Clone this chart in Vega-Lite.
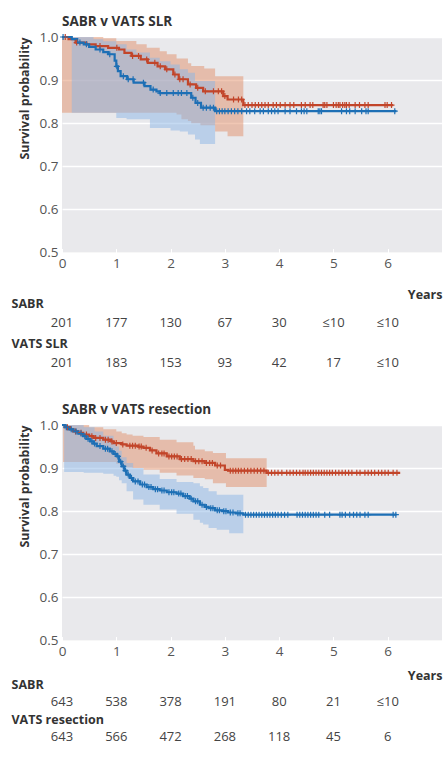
{
"$schema": "https://vega.github.io/schema/vega-lite/v6.json",
"background": "white",
"padding": {"left": 11, "top": 14, "right": 2, "bottom": 5},
"datasets": {
"km1": [
{"grp":"SABR","t":0,"s":1},{"grp":"SABR","t":0.12,"s":0.995},{"grp":"SABR","t":0.25,"s":0.987},{"grp":"SABR","t":0.45,"s":0.983},{"grp":"SABR","t":0.62,"s":0.979},{"grp":"SABR","t":0.85,"s":0.975},{"grp":"SABR","t":1.05,"s":0.971},{"grp":"SABR","t":1.15,"s":0.963},{"grp":"SABR","t":1.28,"s":0.956},{"grp":"SABR","t":1.45,"s":0.948},{"grp":"SABR","t":1.58,"s":0.94},{"grp":"SABR","t":1.76,"s":0.932},{"grp":"SABR","t":1.9,"s":0.925},{"grp":"SABR","t":2.05,"s":0.913},{"grp":"SABR","t":2.15,"s":0.902},{"grp":"SABR","t":2.32,"s":0.89},{"grp":"SABR","t":2.47,"s":0.882},{"grp":"SABR","t":2.6,"s":0.874},{"grp":"SABR","t":2.97,"s":0.863},{"grp":"SABR","t":3.05,"s":0.855},{"grp":"SABR","t":3.34,"s":0.842},{"grp":"SABR","t":6.1,"s":0.842},
{"grp":"VATS","t":0,"s":1},{"grp":"VATS","t":0.18,"s":0.995},{"grp":"VATS","t":0.28,"s":0.987},{"grp":"VATS","t":0.4,"s":0.983},{"grp":"VATS","t":0.5,"s":0.977},{"grp":"VATS","t":0.62,"s":0.971},{"grp":"VATS","t":0.76,"s":0.965},{"grp":"VATS","t":0.85,"s":0.96},{"grp":"VATS","t":0.97,"s":0.945},{"grp":"VATS","t":1.0,"s":0.932},{"grp":"VATS","t":1.03,"s":0.921},{"grp":"VATS","t":1.08,"s":0.909},{"grp":"VATS","t":1.2,"s":0.902},{"grp":"VATS","t":1.32,"s":0.894},{"grp":"VATS","t":1.52,"s":0.886},{"grp":"VATS","t":1.63,"s":0.878},{"grp":"VATS","t":1.74,"s":0.874},{"grp":"VATS","t":1.8,"s":0.87},{"grp":"VATS","t":2.38,"s":0.859},{"grp":"VATS","t":2.46,"s":0.847},{"grp":"VATS","t":2.56,"s":0.836},{"grp":"VATS","t":2.82,"s":0.828},{"grp":"VATS","t":6.16,"s":0.828}
],
"band1": [
{"grp":"SABR","t":0,"lo":0.824,"hi":1},{"grp":"SABR","t":0.76,"lo":0.824,"hi":0.997},{"grp":"SABR","t":1.0,"lo":0.824,"hi":0.991},{"grp":"SABR","t":1.37,"lo":0.824,"hi":0.983},{"grp":"SABR","t":1.56,"lo":0.824,"hi":0.975},{"grp":"SABR","t":1.8,"lo":0.824,"hi":0.967},{"grp":"SABR","t":1.93,"lo":0.824,"hi":0.96},{"grp":"SABR","t":2.11,"lo":0.82,"hi":0.95},{"grp":"SABR","t":2.2,"lo":0.809,"hi":0.95},{"grp":"SABR","t":2.32,"lo":0.805,"hi":0.939},{"grp":"SABR","t":2.38,"lo":0.8,"hi":0.933},{"grp":"SABR","t":2.55,"lo":0.795,"hi":0.933},{"grp":"SABR","t":2.62,"lo":0.795,"hi":0.927},{"grp":"SABR","t":2.82,"lo":0.781,"hi":0.909},{"grp":"SABR","t":3.05,"lo":0.77,"hi":0.909},{"grp":"SABR","t":3.34,"lo":0.77,"hi":0.909},
{"grp":"VATS","t":0.18,"lo":0.824,"hi":1},{"grp":"VATS","t":0.58,"lo":0.824,"hi":0.995},{"grp":"VATS","t":0.76,"lo":0.824,"hi":0.99},{"grp":"VATS","t":1.0,"lo":0.812,"hi":0.983},{"grp":"VATS","t":1.19,"lo":0.809,"hi":0.971},{"grp":"VATS","t":1.37,"lo":0.809,"hi":0.964},{"grp":"VATS","t":1.62,"lo":0.789,"hi":0.952},{"grp":"VATS","t":1.8,"lo":0.789,"hi":0.944},{"grp":"VATS","t":2.0,"lo":0.783,"hi":0.936},{"grp":"VATS","t":2.17,"lo":0.781,"hi":0.925},{"grp":"VATS","t":2.32,"lo":0.774,"hi":0.917},{"grp":"VATS","t":2.45,"lo":0.762,"hi":0.898},{"grp":"VATS","t":2.54,"lo":0.752,"hi":0.898},{"grp":"VATS","t":2.82,"lo":0.752,"hi":0.898}
],
"cens1": [
{"grp":"SABR","t":0.06,"s":1},{"grp":"SABR","t":0.27,"s":0.987},{"grp":"SABR","t":0.7,"s":0.979},{"grp":"SABR","t":1.01,"s":0.975},{"grp":"SABR","t":1.3,"s":0.956},{"grp":"SABR","t":1.41,"s":0.956},{"grp":"SABR","t":1.56,"s":0.948},{"grp":"SABR","t":1.71,"s":0.94},{"grp":"SABR","t":1.81,"s":0.932},{"grp":"SABR","t":1.93,"s":0.925},{"grp":"SABR","t":2.08,"s":0.913},{"grp":"SABR","t":2.17,"s":0.902},{"grp":"SABR","t":2.23,"s":0.902},{"grp":"SABR","t":2.36,"s":0.89},{"grp":"SABR","t":2.5,"s":0.882},{"grp":"SABR","t":2.64,"s":0.874},{"grp":"SABR","t":2.79,"s":0.874},{"grp":"SABR","t":2.88,"s":0.874},{"grp":"SABR","t":2.94,"s":0.874},{"grp":"SABR","t":3.0,"s":0.863},{"grp":"SABR","t":3.16,"s":0.855},{"grp":"SABR","t":3.25,"s":0.855},{"grp":"SABR","t":3.31,"s":0.855},
{"grp":"SABR","t":3.37,"s":0.842},{"grp":"SABR","t":3.43,"s":0.842},{"grp":"SABR","t":3.5,"s":0.842},{"grp":"SABR","t":3.56,"s":0.842},{"grp":"SABR","t":3.62,"s":0.842},{"grp":"SABR","t":3.68,"s":0.842},{"grp":"SABR","t":3.74,"s":0.842},{"grp":"SABR","t":3.8,"s":0.842},{"grp":"SABR","t":3.89,"s":0.842},{"grp":"SABR","t":3.95,"s":0.842},{"grp":"SABR","t":4.02,"s":0.842},{"grp":"SABR","t":4.11,"s":0.842},{"grp":"SABR","t":4.2,"s":0.842},{"grp":"SABR","t":4.27,"s":0.842},{"grp":"SABR","t":4.41,"s":0.842},{"grp":"SABR","t":4.48,"s":0.842},{"grp":"SABR","t":4.57,"s":0.842},{"grp":"SABR","t":4.62,"s":0.842},{"grp":"SABR","t":4.81,"s":0.842},{"grp":"SABR","t":4.84,"s":0.842},{"grp":"SABR","t":4.88,"s":0.842},{"grp":"SABR","t":5.0,"s":0.842},{"grp":"SABR","t":5.05,"s":0.842},{"grp":"SABR","t":5.09,"s":0.842},{"grp":"SABR","t":5.12,"s":0.842},{"grp":"SABR","t":5.17,"s":0.842},{"grp":"SABR","t":5.21,"s":0.842},{"grp":"SABR","t":5.24,"s":0.842},{"grp":"SABR","t":5.29,"s":0.842},{"grp":"SABR","t":5.4,"s":0.842},{"grp":"SABR","t":5.48,"s":0.842},{"grp":"SABR","t":5.58,"s":0.842},{"grp":"SABR","t":5.64,"s":0.842},{"grp":"SABR","t":5.95,"s":0.842},{"grp":"SABR","t":5.99,"s":0.842},{"grp":"SABR","t":6.07,"s":0.842},
{"grp":"VATS","t":0.02,"s":1},{"grp":"VATS","t":0.33,"s":0.987},{"grp":"VATS","t":0.45,"s":0.983},{"grp":"VATS","t":0.7,"s":0.971},{"grp":"VATS","t":0.88,"s":0.96},{"grp":"VATS","t":1.01,"s":0.932},{"grp":"VATS","t":1.13,"s":0.909},{"grp":"VATS","t":1.22,"s":0.902},{"grp":"VATS","t":1.31,"s":0.902},{"grp":"VATS","t":1.5,"s":0.894},{"grp":"VATS","t":1.68,"s":0.878},{"grp":"VATS","t":1.81,"s":0.87},{"grp":"VATS","t":1.93,"s":0.87},{"grp":"VATS","t":2.05,"s":0.87},{"grp":"VATS","t":2.14,"s":0.87},{"grp":"VATS","t":2.2,"s":0.87},{"grp":"VATS","t":2.3,"s":0.87},{"grp":"VATS","t":2.41,"s":0.859},{"grp":"VATS","t":2.5,"s":0.847},{"grp":"VATS","t":2.6,"s":0.836},{"grp":"VATS","t":2.66,"s":0.836},{"grp":"VATS","t":2.73,"s":0.836},{"grp":"VATS","t":2.79,"s":0.836},
{"grp":"VATS","t":2.85,"s":0.828},{"grp":"VATS","t":2.9,"s":0.828},{"grp":"VATS","t":2.95,"s":0.828},{"grp":"VATS","t":3.0,"s":0.828},{"grp":"VATS","t":3.06,"s":0.828},{"grp":"VATS","t":3.12,"s":0.828},{"grp":"VATS","t":3.18,"s":0.828},{"grp":"VATS","t":3.24,"s":0.828},{"grp":"VATS","t":3.31,"s":0.828},{"grp":"VATS","t":3.4,"s":0.828},{"grp":"VATS","t":3.46,"s":0.828},{"grp":"VATS","t":3.55,"s":0.828},{"grp":"VATS","t":3.65,"s":0.828},{"grp":"VATS","t":3.71,"s":0.828},{"grp":"VATS","t":3.8,"s":0.828},{"grp":"VATS","t":3.86,"s":0.828},{"grp":"VATS","t":3.92,"s":0.828},{"grp":"VATS","t":3.98,"s":0.828},{"grp":"VATS","t":4.11,"s":0.828},{"grp":"VATS","t":4.2,"s":0.828},{"grp":"VATS","t":4.32,"s":0.828},{"grp":"VATS","t":4.41,"s":0.828},{"grp":"VATS","t":4.46,"s":0.828},{"grp":"VATS","t":4.51,"s":0.828},{"grp":"VATS","t":4.72,"s":0.828},{"grp":"VATS","t":4.75,"s":0.828},{"grp":"VATS","t":4.78,"s":0.828},{"grp":"VATS","t":5.15,"s":0.828},{"grp":"VATS","t":5.24,"s":0.828},{"grp":"VATS","t":5.3,"s":0.828},{"grp":"VATS","t":5.4,"s":0.828},{"grp":"VATS","t":5.52,"s":0.828},{"grp":"VATS","t":5.6,"s":0.828},{"grp":"VATS","t":5.64,"s":0.828},{"grp":"VATS","t":6.13,"s":0.828}
],
"km2": [
{"grp":"SABR","t":0,"s":1},{"grp":"SABR","t":0.05,"s":0.995},{"grp":"SABR","t":0.15,"s":0.99},{"grp":"SABR","t":0.21,"s":0.985},{"grp":"SABR","t":0.3,"s":0.982},{"grp":"SABR","t":0.39,"s":0.978},{"grp":"SABR","t":0.5,"s":0.974},{"grp":"SABR","t":0.58,"s":0.97},{"grp":"SABR","t":0.76,"s":0.966},{"grp":"SABR","t":0.9,"s":0.962},{"grp":"SABR","t":0.95,"s":0.958},{"grp":"SABR","t":1.1,"s":0.955},{"grp":"SABR","t":1.19,"s":0.952},{"grp":"SABR","t":1.4,"s":0.95},{"grp":"SABR","t":1.5,"s":0.947},{"grp":"SABR","t":1.62,"s":0.941},{"grp":"SABR","t":1.74,"s":0.934},{"grp":"SABR","t":1.93,"s":0.927},{"grp":"SABR","t":2.17,"s":0.921},{"grp":"SABR","t":2.42,"s":0.916},{"grp":"SABR","t":2.63,"s":0.912},{"grp":"SABR","t":2.82,"s":0.906},{"grp":"SABR","t":3.0,"s":0.896},{"grp":"SABR","t":3.06,"s":0.894},{"grp":"SABR","t":3.77,"s":0.889},{"grp":"SABR","t":6.23,"s":0.889},
{"grp":"VATS","t":0,"s":1},{"grp":"VATS","t":0.05,"s":0.995},{"grp":"VATS","t":0.12,"s":0.99},{"grp":"VATS","t":0.21,"s":0.985},{"grp":"VATS","t":0.3,"s":0.98},{"grp":"VATS","t":0.39,"s":0.974},{"grp":"VATS","t":0.45,"s":0.968},{"grp":"VATS","t":0.52,"s":0.962},{"grp":"VATS","t":0.58,"s":0.957},{"grp":"VATS","t":0.64,"s":0.951},{"grp":"VATS","t":0.76,"s":0.945},{"grp":"VATS","t":0.88,"s":0.939},{"grp":"VATS","t":0.95,"s":0.933},{"grp":"VATS","t":1.01,"s":0.927},{"grp":"VATS","t":1.05,"s":0.915},{"grp":"VATS","t":1.1,"s":0.904},{"grp":"VATS","t":1.15,"s":0.894},{"grp":"VATS","t":1.19,"s":0.885},{"grp":"VATS","t":1.25,"s":0.877},{"grp":"VATS","t":1.31,"s":0.869},{"grp":"VATS","t":1.44,"s":0.862},{"grp":"VATS","t":1.56,"s":0.856},{"grp":"VATS","t":1.68,"s":0.851},{"grp":"VATS","t":1.8,"s":0.848},{"grp":"VATS","t":1.93,"s":0.844},{"grp":"VATS","t":2.11,"s":0.841},{"grp":"VATS","t":2.23,"s":0.835},{"grp":"VATS","t":2.35,"s":0.829},{"grp":"VATS","t":2.42,"s":0.823},{"grp":"VATS","t":2.54,"s":0.815},{"grp":"VATS","t":2.63,"s":0.81},{"grp":"VATS","t":2.7,"s":0.807},{"grp":"VATS","t":2.82,"s":0.802},{"grp":"VATS","t":2.95,"s":0.8},{"grp":"VATS","t":3.06,"s":0.797},{"grp":"VATS","t":3.2,"s":0.795},{"grp":"VATS","t":3.34,"s":0.792},{"grp":"VATS","t":6.16,"s":0.792}
],
"band2": [
{"grp":"SABR","t":0.02,"lo":0.914,"hi":1},{"grp":"SABR","t":0.5,"lo":0.914,"hi":0.995},{"grp":"SABR","t":0.76,"lo":0.914,"hi":0.99},{"grp":"SABR","t":1.0,"lo":0.91,"hi":0.985},{"grp":"SABR","t":1.1,"lo":0.905,"hi":0.981},{"grp":"SABR","t":1.19,"lo":0.902,"hi":0.978},{"grp":"SABR","t":1.3,"lo":0.9,"hi":0.975},{"grp":"SABR","t":1.5,"lo":0.896,"hi":0.972},{"grp":"SABR","t":1.8,"lo":0.889,"hi":0.966},{"grp":"SABR","t":2.11,"lo":0.883,"hi":0.96},{"grp":"SABR","t":2.42,"lo":0.877,"hi":0.952},{"grp":"SABR","t":2.45,"lo":0.877,"hi":0.943},{"grp":"SABR","t":2.63,"lo":0.874,"hi":0.939},{"grp":"SABR","t":2.78,"lo":0.865,"hi":0.935},{"grp":"SABR","t":3.02,"lo":0.856,"hi":0.923},{"grp":"SABR","t":3.77,"lo":0.856,"hi":0.923},
{"grp":"VATS","t":0.04,"lo":0.891,"hi":1},{"grp":"VATS","t":0.4,"lo":0.889,"hi":0.995},{"grp":"VATS","t":0.6,"lo":0.889,"hi":0.985},{"grp":"VATS","t":0.76,"lo":0.887,"hi":0.975},{"grp":"VATS","t":0.95,"lo":0.882,"hi":0.96},{"grp":"VATS","t":1.0,"lo":0.88,"hi":0.95},{"grp":"VATS","t":1.05,"lo":0.872,"hi":0.94},{"grp":"VATS","t":1.1,"lo":0.865,"hi":0.925},{"grp":"VATS","t":1.19,"lo":0.846,"hi":0.912},{"grp":"VATS","t":1.31,"lo":0.827,"hi":0.9},{"grp":"VATS","t":1.5,"lo":0.815,"hi":0.885},{"grp":"VATS","t":1.8,"lo":0.804,"hi":0.875},{"grp":"VATS","t":2.11,"lo":0.794,"hi":0.868},{"grp":"VATS","t":2.42,"lo":0.78,"hi":0.865},{"grp":"VATS","t":2.54,"lo":0.773,"hi":0.858},{"grp":"VATS","t":2.6,"lo":0.769,"hi":0.854},{"grp":"VATS","t":2.7,"lo":0.761,"hi":0.846},{"grp":"VATS","t":2.85,"lo":0.757,"hi":0.838},{"grp":"VATS","t":3.08,"lo":0.749,"hi":0.838},{"grp":"VATS","t":3.34,"lo":0.749,"hi":0.838}
],
"cens2": [
{"grp":"SABR","t":0.1,"s":0.995},{"grp":"SABR","t":0.25,"s":0.985},{"grp":"SABR","t":0.35,"s":0.982},{"grp":"SABR","t":0.45,"s":0.978},{"grp":"SABR","t":0.55,"s":0.974},{"grp":"SABR","t":0.62,"s":0.97},{"grp":"SABR","t":0.7,"s":0.97},{"grp":"SABR","t":0.8,"s":0.966},{"grp":"SABR","t":0.85,"s":0.966},{"grp":"SABR","t":0.92,"s":0.962},{"grp":"SABR","t":1.0,"s":0.958},{"grp":"SABR","t":1.12,"s":0.955},{"grp":"SABR","t":1.25,"s":0.952},{"grp":"SABR","t":1.3,"s":0.952},{"grp":"SABR","t":1.35,"s":0.952},{"grp":"SABR","t":1.42,"s":0.95},{"grp":"SABR","t":1.46,"s":0.95},{"grp":"SABR","t":1.55,"s":0.947},{"grp":"SABR","t":1.66,"s":0.941},{"grp":"SABR","t":1.78,"s":0.934},{"grp":"SABR","t":1.84,"s":0.934},{"grp":"SABR","t":1.88,"s":0.934},{"grp":"SABR","t":1.97,"s":0.927},{"grp":"SABR","t":2.02,"s":0.927},{"grp":"SABR","t":2.07,"s":0.927},{"grp":"SABR","t":2.12,"s":0.927},{"grp":"SABR","t":2.2,"s":0.921},{"grp":"SABR","t":2.26,"s":0.921},{"grp":"SABR","t":2.32,"s":0.921},{"grp":"SABR","t":2.38,"s":0.921},{"grp":"SABR","t":2.46,"s":0.916},{"grp":"SABR","t":2.52,"s":0.916},{"grp":"SABR","t":2.58,"s":0.916},{"grp":"SABR","t":2.66,"s":0.912},{"grp":"SABR","t":2.72,"s":0.912},{"grp":"SABR","t":2.77,"s":0.912},{"grp":"SABR","t":2.86,"s":0.906},{"grp":"SABR","t":2.92,"s":0.906},{"grp":"SABR","t":3.1,"s":0.894},{"grp":"SABR","t":3.15,"s":0.894},{"grp":"SABR","t":3.2,"s":0.894},{"grp":"SABR","t":3.25,"s":0.894},{"grp":"SABR","t":3.3,"s":0.894},{"grp":"SABR","t":3.36,"s":0.894},{"grp":"SABR","t":3.42,"s":0.894},{"grp":"SABR","t":3.48,"s":0.894},{"grp":"SABR","t":3.54,"s":0.894},{"grp":"SABR","t":3.6,"s":0.894},{"grp":"SABR","t":3.66,"s":0.894},{"grp":"SABR","t":3.72,"s":0.894},
{"grp":"SABR","t":3.8,"s":0.889},{"grp":"SABR","t":3.86,"s":0.889},{"grp":"SABR","t":3.92,"s":0.889},{"grp":"SABR","t":3.98,"s":0.889},{"grp":"SABR","t":4.05,"s":0.889},{"grp":"SABR","t":4.14,"s":0.889},{"grp":"SABR","t":4.2,"s":0.889},{"grp":"SABR","t":4.26,"s":0.889},{"grp":"SABR","t":4.32,"s":0.889},{"grp":"SABR","t":4.38,"s":0.889},{"grp":"SABR","t":4.44,"s":0.889},{"grp":"SABR","t":4.48,"s":0.889},{"grp":"SABR","t":4.53,"s":0.889},{"grp":"SABR","t":4.58,"s":0.889},{"grp":"SABR","t":4.63,"s":0.889},{"grp":"SABR","t":4.68,"s":0.889},{"grp":"SABR","t":4.73,"s":0.889},{"grp":"SABR","t":4.78,"s":0.889},{"grp":"SABR","t":4.83,"s":0.889},{"grp":"SABR","t":4.88,"s":0.889},{"grp":"SABR","t":4.93,"s":0.889},{"grp":"SABR","t":4.98,"s":0.889},{"grp":"SABR","t":5.04,"s":0.889},{"grp":"SABR","t":5.1,"s":0.889},{"grp":"SABR","t":5.16,"s":0.889},{"grp":"SABR","t":5.22,"s":0.889},{"grp":"SABR","t":5.28,"s":0.889},{"grp":"SABR","t":5.34,"s":0.889},{"grp":"SABR","t":5.43,"s":0.889},{"grp":"SABR","t":5.49,"s":0.889},{"grp":"SABR","t":5.58,"s":0.889},{"grp":"SABR","t":5.64,"s":0.889},{"grp":"SABR","t":5.7,"s":0.889},{"grp":"SABR","t":5.76,"s":0.889},{"grp":"SABR","t":5.83,"s":0.889},{"grp":"SABR","t":5.89,"s":0.889},{"grp":"SABR","t":5.95,"s":0.889},{"grp":"SABR","t":6.01,"s":0.889},{"grp":"SABR","t":6.1,"s":0.889},{"grp":"SABR","t":6.17,"s":0.889},
{"grp":"VATS","t":0.08,"s":0.995},{"grp":"VATS","t":0.17,"s":0.99},{"grp":"VATS","t":0.26,"s":0.985},{"grp":"VATS","t":0.35,"s":0.98},{"grp":"VATS","t":0.42,"s":0.974},{"grp":"VATS","t":0.48,"s":0.968},{"grp":"VATS","t":0.55,"s":0.962},{"grp":"VATS","t":0.6,"s":0.957},{"grp":"VATS","t":0.7,"s":0.951},{"grp":"VATS","t":0.8,"s":0.945},{"grp":"VATS","t":0.84,"s":0.945},{"grp":"VATS","t":0.92,"s":0.939},{"grp":"VATS","t":0.98,"s":0.933},{"grp":"VATS","t":1.03,"s":0.927},{"grp":"VATS","t":1.08,"s":0.915},{"grp":"VATS","t":1.13,"s":0.904},{"grp":"VATS","t":1.17,"s":0.894},{"grp":"VATS","t":1.22,"s":0.885},{"grp":"VATS","t":1.28,"s":0.877},{"grp":"VATS","t":1.35,"s":0.869},{"grp":"VATS","t":1.4,"s":0.869},{"grp":"VATS","t":1.48,"s":0.862},{"grp":"VATS","t":1.52,"s":0.862},{"grp":"VATS","t":1.6,"s":0.856},{"grp":"VATS","t":1.64,"s":0.856},{"grp":"VATS","t":1.72,"s":0.851},{"grp":"VATS","t":1.76,"s":0.851},{"grp":"VATS","t":1.84,"s":0.848},{"grp":"VATS","t":1.88,"s":0.848},{"grp":"VATS","t":1.97,"s":0.844},{"grp":"VATS","t":2.02,"s":0.844},{"grp":"VATS","t":2.06,"s":0.844},{"grp":"VATS","t":2.15,"s":0.841},{"grp":"VATS","t":2.19,"s":0.841},{"grp":"VATS","t":2.27,"s":0.835},{"grp":"VATS","t":2.31,"s":0.835},{"grp":"VATS","t":2.38,"s":0.829},{"grp":"VATS","t":2.46,"s":0.823},{"grp":"VATS","t":2.5,"s":0.823},{"grp":"VATS","t":2.58,"s":0.815},{"grp":"VATS","t":2.66,"s":0.81},{"grp":"VATS","t":2.74,"s":0.807},{"grp":"VATS","t":2.78,"s":0.807},{"grp":"VATS","t":2.86,"s":0.802},{"grp":"VATS","t":2.9,"s":0.802},{"grp":"VATS","t":2.98,"s":0.8},{"grp":"VATS","t":3.02,"s":0.8},{"grp":"VATS","t":3.1,"s":0.797},{"grp":"VATS","t":3.15,"s":0.797},{"grp":"VATS","t":3.24,"s":0.795},{"grp":"VATS","t":3.28,"s":0.795},
{"grp":"VATS","t":3.38,"s":0.792},{"grp":"VATS","t":3.43,"s":0.792},{"grp":"VATS","t":3.48,"s":0.792},{"grp":"VATS","t":3.53,"s":0.792},{"grp":"VATS","t":3.58,"s":0.792},{"grp":"VATS","t":3.63,"s":0.792},{"grp":"VATS","t":3.68,"s":0.792},{"grp":"VATS","t":3.73,"s":0.792},{"grp":"VATS","t":3.78,"s":0.792},{"grp":"VATS","t":3.83,"s":0.792},{"grp":"VATS","t":3.88,"s":0.792},{"grp":"VATS","t":3.93,"s":0.792},{"grp":"VATS","t":3.98,"s":0.792},{"grp":"VATS","t":4.04,"s":0.792},{"grp":"VATS","t":4.1,"s":0.792},{"grp":"VATS","t":4.16,"s":0.792},{"grp":"VATS","t":4.33,"s":0.792},{"grp":"VATS","t":4.38,"s":0.792},{"grp":"VATS","t":4.43,"s":0.792},{"grp":"VATS","t":4.48,"s":0.792},{"grp":"VATS","t":4.53,"s":0.792},{"grp":"VATS","t":4.58,"s":0.792},{"grp":"VATS","t":4.63,"s":0.792},{"grp":"VATS","t":4.68,"s":0.792},{"grp":"VATS","t":4.73,"s":0.792},{"grp":"VATS","t":4.84,"s":0.792},{"grp":"VATS","t":4.93,"s":0.792},{"grp":"VATS","t":5.12,"s":0.792},{"grp":"VATS","t":5.16,"s":0.792},{"grp":"VATS","t":5.22,"s":0.792},{"grp":"VATS","t":5.3,"s":0.792},{"grp":"VATS","t":5.37,"s":0.792},{"grp":"VATS","t":5.43,"s":0.792},{"grp":"VATS","t":5.49,"s":0.792},{"grp":"VATS","t":5.58,"s":0.792},{"grp":"VATS","t":5.64,"s":0.792},{"grp":"VATS","t":6.1,"s":0.792},{"grp":"VATS","t":6.15,"s":0.792}
],
"risk1": [
{"row":"a","t":0,"n":"201"},{"row":"a","t":1,"n":"177"},{"row":"a","t":2,"n":"130"},{"row":"a","t":3,"n":"67"},{"row":"a","t":4,"n":"30"},{"row":"a","t":5,"n":"≤10"},{"row":"a","t":6,"n":"≤10"},
{"row":"b","t":0,"n":"201"},{"row":"b","t":1,"n":"183"},{"row":"b","t":2,"n":"153"},{"row":"b","t":3,"n":"93"},{"row":"b","t":4,"n":"42"},{"row":"b","t":5,"n":"17"},{"row":"b","t":6,"n":"≤10"}
],
"risk2": [
{"row":"a","t":0,"n":"643"},{"row":"a","t":1,"n":"538"},{"row":"a","t":2,"n":"378"},{"row":"a","t":3,"n":"191"},{"row":"a","t":4,"n":"80"},{"row":"a","t":5,"n":"21"},{"row":"a","t":6,"n":"≤10"},
{"row":"b","t":0,"n":"643"},{"row":"b","t":1,"n":"566"},{"row":"b","t":2,"n":"472"},{"row":"b","t":3,"n":"268"},{"row":"b","t":4,"n":"118"},{"row":"b","t":5,"n":"45"},{"row":"b","t":6,"n":"6"}
]
},
"spacing": 32,
"resolve": {"scale": {"x": "independent", "y": "independent"}},
"vconcat": [
{
"spacing": 18,
"resolve": {"scale": {"x": "independent", "y": "independent"}},
"vconcat": [
{
"width": 380, "height": 215.5,
"title": {"text": "SABR v VATS SLR"},
"view": {"fill": "#e9e9ec", "stroke": null},
"layer": [
{"data": {"name": "band1"}, "mark": {"type": "area", "interpolate": "step-after", "opacity": 0.5},
 "encoding": {
  "x": {"field": "t", "type": "quantitative", "scale": {"domain": [0, 7], "nice": false}, "axis": {"values": [0,1,2,3,4,5,6], "title": null}},
  "y": {"field": "lo", "type": "quantitative", "scale": {"domain": [0.5, 1], "nice": false, "zero": false}, "axis": {"values": [0.5,0.6,0.7,0.8,0.9,1.0], "format": ".1f", "title": "Survival probability"}},
  "y2": {"field": "hi"},
  "fill": {"field": "grp", "type": "nominal", "scale": {"domain": ["SABR", "VATS"], "range": ["#e28f6a", "#8bb5e6"]}, "legend": null}
 }},
{"data": {"name": "km1"}, "mark": {"type": "line", "interpolate": "step-after", "strokeWidth": 2.2},
 "encoding": {
  "x": {"field": "t", "type": "quantitative", "scale": {"domain": [0, 7], "nice": false}, "axis": {"values": [0,1,2,3,4,5,6], "title": null}},
  "y": {"field": "s", "type": "quantitative", "scale": {"domain": [0.5, 1], "nice": false, "zero": false}, "axis": {"values": [0.5,0.6,0.7,0.8,0.9,1.0], "format": ".1f", "title": "Survival probability"}},
  "stroke": {"field": "grp", "type": "nominal", "scale": {"domain": ["SABR", "VATS"], "range": ["#c2452a", "#1d6fb5"]}, "legend": null}
 }},
{"data": {"name": "cens1"}, "mark": {"type": "point", "shape": "M-1,0L1,0M0,-1L0,1", "filled": false, "size": 36, "strokeWidth": 1.2, "opacity": 1},
 "encoding": {
  "x": {"field": "t", "type": "quantitative", "scale": {"domain": [0, 7], "nice": false}, "axis": {"values": [0,1,2,3,4,5,6], "title": null}},
  "y": {"field": "s", "type": "quantitative", "scale": {"domain": [0.5, 1], "nice": false, "zero": false}, "axis": {"values": [0.5,0.6,0.7,0.8,0.9,1.0], "format": ".1f", "title": "Survival probability"}},
  "stroke": {"field": "grp", "type": "nominal", "scale": {"domain": ["SABR", "VATS"], "range": ["#c2452a", "#1d6fb5"]}, "legend": null}
 }}
]
},
{
"width": 380, "height": 60,
"view": {"stroke": null},
"data": {"name": "risk1"},
"mark": {"type": "text", "fontSize": 13, "color": "#444444", "font": "Open Sans", "baseline": "middle"},
"encoding": {
 "x": {"field": "t", "type": "quantitative", "scale": {"domain": [0, 7], "nice": false}, "axis": {"orient": "top", "labels": false, "ticks": false, "grid": false, "domain": false, "title": "Years", "titleAnchor": "end", "titleAlign": "right", "titlePadding": 2}},
 "y": {"field": "row", "type": "ordinal", "scale": {"type": "point", "domain": ["SABR", "a", "VATS SLR", "b"], "padding": 0}, "axis": {"title": null, "domain": false, "ticks": false, "tickSize": 0, "grid": false, "labelAlign": "left", "labelBaseline": "middle", "labelPadding": 51, "labelFontWeight": "bold", "labelFontSize": 12.5, "labelColor": "#333333", "labelExpr": "length(datum.value) > 1 ? datum.value : ''"}},
 "text": {"field": "n"}
}
}
]
},
{
"spacing": 11,
"resolve": {"scale": {"x": "independent", "y": "independent"}},
"vconcat": [
{
"width": 380, "height": 215.5,
"title": {"text": "SABR v VATS resection"},
"view": {"fill": "#e9e9ec", "stroke": null},
"layer": [
{"data": {"name": "band2"}, "mark": {"type": "area", "interpolate": "step-after", "opacity": 0.5},
 "encoding": {
  "x": {"field": "t", "type": "quantitative", "scale": {"domain": [0, 7], "nice": false}, "axis": {"values": [0,1,2,3,4,5,6], "title": null}},
  "y": {"field": "lo", "type": "quantitative", "scale": {"domain": [0.5, 1], "nice": false, "zero": false}, "axis": {"values": [0.5,0.6,0.7,0.8,0.9,1.0], "format": ".1f", "title": "Survival probability"}},
  "y2": {"field": "hi"},
  "fill": {"field": "grp", "type": "nominal", "scale": {"domain": ["SABR", "VATS"], "range": ["#e28f6a", "#8bb5e6"]}, "legend": null}
 }},
{"data": {"name": "km2"}, "mark": {"type": "line", "interpolate": "step-after", "strokeWidth": 2.2},
 "encoding": {
  "x": {"field": "t", "type": "quantitative", "scale": {"domain": [0, 7], "nice": false}, "axis": {"values": [0,1,2,3,4,5,6], "title": null}},
  "y": {"field": "s", "type": "quantitative", "scale": {"domain": [0.5, 1], "nice": false, "zero": false}, "axis": {"values": [0.5,0.6,0.7,0.8,0.9,1.0], "format": ".1f", "title": "Survival probability"}},
  "stroke": {"field": "grp", "type": "nominal", "scale": {"domain": ["SABR", "VATS"], "range": ["#c2452a", "#1d6fb5"]}, "legend": null}
 }},
{"data": {"name": "cens2"}, "mark": {"type": "point", "shape": "M-1,0L1,0M0,-1L0,1", "filled": false, "size": 36, "strokeWidth": 1.2, "opacity": 1},
 "encoding": {
  "x": {"field": "t", "type": "quantitative", "scale": {"domain": [0, 7], "nice": false}, "axis": {"values": [0,1,2,3,4,5,6], "title": null}},
  "y": {"field": "s", "type": "quantitative", "scale": {"domain": [0.5, 1], "nice": false, "zero": false}, "axis": {"values": [0.5,0.6,0.7,0.8,0.9,1.0], "format": ".1f", "title": "Survival probability"}},
  "stroke": {"field": "grp", "type": "nominal", "scale": {"domain": ["SABR", "VATS"], "range": ["#c2452a", "#1d6fb5"]}, "legend": null}
 }}
]
},
{
"width": 380, "height": 53,
"view": {"stroke": null},
"data": {"name": "risk2"},
"mark": {"type": "text", "fontSize": 13, "color": "#444444", "font": "Open Sans", "baseline": "middle"},
"encoding": {
 "x": {"field": "t", "type": "quantitative", "scale": {"domain": [0, 7], "nice": false}, "axis": {"orient": "top", "labels": false, "ticks": false, "grid": false, "domain": false, "title": "Years", "titleAnchor": "end", "titleAlign": "right", "titlePadding": 2}},
 "y": {"field": "row", "type": "ordinal", "scale": {"type": "point", "domain": ["SABR", "a", "VATS resection", "b"], "padding": 0}, "axis": {"title": null, "domain": false, "ticks": false, "tickSize": 0, "grid": false, "labelAlign": "left", "labelBaseline": "middle", "labelPadding": 51, "labelFontWeight": "bold", "labelFontSize": 12.5, "labelColor": "#333333", "labelExpr": "length(datum.value) > 1 ? datum.value : ''"}},
 "text": {"field": "n"}
}
}
]
}
],
"config": {
 "font": "Open Sans",
 "view": {"stroke": null},
 "axis": {"labelFont": "Open Sans", "titleFont": "Open Sans", "labelFontSize": 13.5, "labelColor": "#555555", "titleFontSize": 12.5, "titleFontWeight": "bold", "titleColor": "#333333", "domain": false, "gridColor": "#ffffff", "gridWidth": 1.5},
 "axisX": {"grid": false, "tickColor": "#ffffff", "tickSize": -4, "tickWidth": 1, "labelPadding": 8, "labelFlush": false},
 "axisY": {"ticks": false, "labelPadding": 4, "titleAnchor": "end", "titlePadding": 8},
 "title": {"anchor": "start", "fontSize": 13.5, "fontWeight": "bold", "color": "#333333", "offset": 2, "font": "Open Sans", "frame": "group"}
}
}
